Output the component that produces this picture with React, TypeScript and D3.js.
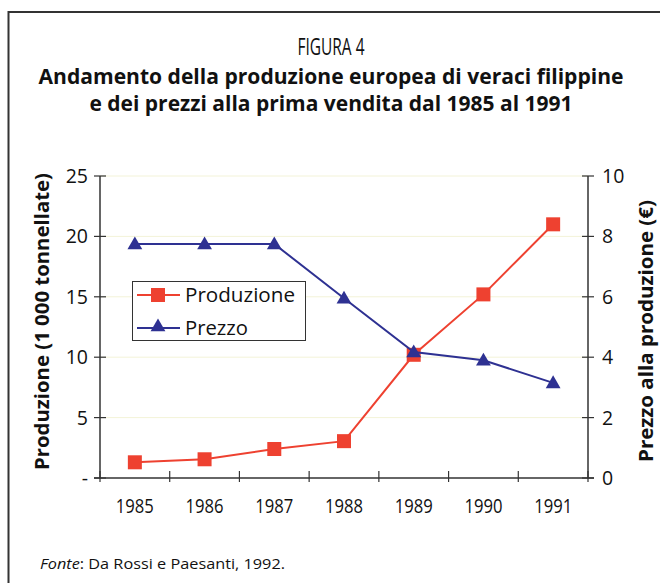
import React from "react";
import * as d3 from "d3";

const years = ["1985", "1986", "1987", "1988", "1989", "1990", "1991"];
const produzione = [1.3, 1.55, 2.4, 3.05, 10.2, 15.2, 21.0];
const prezzo = [7.75, 7.75, 7.75, 5.95, 4.17, 3.9, 3.15];
const leftTicks = [0, 5, 10, 15, 20, 25];
const leftTickLabels = ["-", "5", "10", "15", "20", "25"];
const rightTicks = [0, 2, 4, 6, 8, 10];

const RED = "#EE4130";
const BLUE = "#2E3192";
const FONT = "'Open Sans', 'Noto Sans', sans-serif";

export default function App() {
  const W = 660, H = 583;
  const left = 100, right = 588, top = 176, bottom = 478;
  const x = d3.scaleBand<string>().domain(years).range([left, right]).padding(0);
  const yL = d3.scaleLinear().domain([0, 25]).range([bottom, top]);
  const yR = d3.scaleLinear().domain([0, 10]).range([bottom, top]);
  const cx = (d: string) => (x(d) as number) + x.bandwidth() / 2;

  const lineP = d3.line<number>().x((_, i) => cx(years[i])).y((d) => yL(d));
  const lineZ = d3.line<number>().x((_, i) => cx(years[i])).y((d) => yR(d));
  const tri = d3.symbol().type(d3.symbolTriangle).size(95)();
  const bounds = years.map((y) => x(y) as number).concat([right]);

  return (
    <svg width={W} height={H} style={{ position: "absolute", left: 0, top: 0, background: "#fff" }}>
      <rect x={0} y={0} width={W} height={H} fill="#fff" />
      {/* border */}
      <path d={`M8.5,${H} V12 H${W}`} fill="none" stroke="#333" strokeWidth={2} />
      {/* titles */}
      <text x={331} y={55} textAnchor="middle" fontFamily={FONT} fontSize={23} textLength={67} lengthAdjust="spacingAndGlyphs" fill="#111">FIGURA 4</text>
      <text x={331} y={84} textAnchor="middle" fontFamily={FONT} fontSize={21.5} fontWeight="bold" textLength={585} lengthAdjust="spacingAndGlyphs" fill="#111">Andamento della produzione europea di veraci filippine</text>
      <text x={331} y={111} textAnchor="middle" fontFamily={FONT} fontSize={21.5} fontWeight="bold" textLength={483} lengthAdjust="spacingAndGlyphs" fill="#111">e dei prezzi alla prima vendita dal 1985 al 1991</text>
      {/* gridlines */}
      {leftTicks.filter((t) => t > 0).map((t) => (
        <line key={"g" + t} x1={left} x2={right} y1={yL(t)} y2={yL(t)} stroke="#f3f3d8" strokeWidth={1} />
      ))}
      {/* axes */}
      <line x1={left} x2={left} y1={top} y2={bottom} stroke="#333" strokeWidth={1.5} />
      <line x1={right} x2={right} y1={top} y2={bottom} stroke="#333" strokeWidth={1.5} />
      <line x1={left - 6} x2={right + 6} y1={bottom} y2={bottom} stroke="#333" strokeWidth={1.5} />
      {leftTicks.map((t, i) => (
        <g key={"l" + t}>
          <line x1={left - 6} x2={left + 6} y1={yL(t)} y2={yL(t)} stroke="#333" strokeWidth={1.2} />
          <text x={88} y={yL(t) + 7} textAnchor="end" fontFamily={FONT} fontSize={19.5} fill="#111">{leftTickLabels[i]}</text>
        </g>
      ))}
      {rightTicks.map((t) => (
        <g key={"r" + t}>
          <line x1={right - 6} x2={right + 6} y1={yR(t)} y2={yR(t)} stroke="#333" strokeWidth={1.2} />
          <text x={602} y={yR(t) + 7} textAnchor="start" fontFamily={FONT} fontSize={19.5} fill="#111">{t}</text>
        </g>
      ))}
      {bounds.map((b, i) => (
        <line key={"xt" + i} x1={b} x2={b} y1={bottom - 7} y2={bottom + 4} stroke="#333" strokeWidth={1.2} />
      ))}
      {years.map((y) => (
        <text key={"yl" + y} x={cx(y)} y={513} textAnchor="middle" fontFamily={FONT} fontSize={20.5} textLength={38} lengthAdjust="spacingAndGlyphs" fill="#111">{y}</text>
      ))}
      {/* axis titles */}
      <text transform={`translate(49,321.5) rotate(-90)`} textAnchor="middle" fontFamily={FONT} fontSize={19.5} fontWeight="bold" textLength={297} lengthAdjust="spacingAndGlyphs" fill="#111">Produzione (1 000 tonnellate)</text>
      <text transform={`translate(653,331) rotate(-90)`} textAnchor="middle" fontFamily={FONT} fontSize={19.5} fontWeight="bold" textLength={262} lengthAdjust="spacingAndGlyphs" fill="#111">Prezzo alla produzione (€)</text>
      {/* series */}
      <path d={lineP(produzione) || ""} fill="none" stroke={RED} strokeWidth={2} />
      {produzione.map((v, i) => (
        <rect key={"s" + i} x={cx(years[i]) - 7} y={yL(v) - 7} width={14} height={14} fill={RED} />
      ))}
      <path d={lineZ(prezzo) || ""} fill="none" stroke={BLUE} strokeWidth={2} />
      {prezzo.map((v, i) => (
        <path key={"t" + i} d={tri || ""} transform={`translate(${cx(years[i])},${yR(v) + 1})`} fill={BLUE} />
      ))}
      {/* legend */}
      <rect x={132.5} y={281.5} width={173} height={59} fill="#fff" stroke="#333" strokeWidth={1} />
      <line x1={137} x2={180} y1={295} y2={295} stroke={RED} strokeWidth={2} />
      <rect x={151} y={288} width={14} height={14} fill={RED} />
      <text x={185} y={302} fontFamily={FONT} fontSize={19.5} textLength={110} lengthAdjust="spacingAndGlyphs" fill="#111">Produzione</text>
      <line x1={137} x2={180} y1={328} y2={328} stroke={BLUE} strokeWidth={2} />
      <path d={tri || ""} transform={`translate(158,327)`} fill={BLUE} />
      <text x={185} y={335} fontFamily={FONT} fontSize={19.5} textLength={63} lengthAdjust="spacingAndGlyphs" fill="#111">Prezzo</text>
      {/* footnote */}
      <text x={40} y={569} fontFamily={FONT} fontSize={15} textLength={245} lengthAdjust="spacingAndGlyphs" fill="#111">
        <tspan fontStyle="italic">Fonte</tspan>: Da Rossi e Paesanti, 1992.
      </text>
    </svg>
  );
}
